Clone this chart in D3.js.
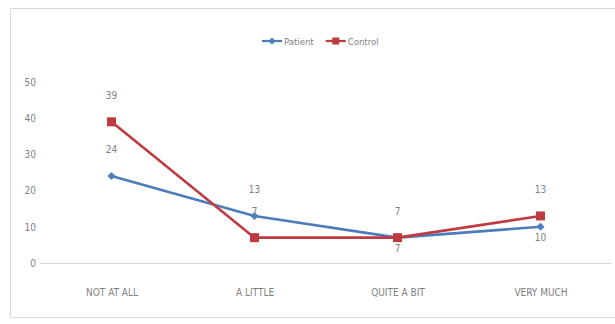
<!DOCTYPE html>
<html>
<head>
<meta charset="utf-8">
<script src="https://cdn.jsdelivr.net/npm/d3@7"></script>
<style>
  html, body { margin: 0; padding: 0; background: #fff; }
  svg { display: block; }
  text { font-family: "Liberation Sans Narrow", "DejaVu Sans Condensed", "Arial Narrow", sans-serif; fill: #7f7f7f; }
</style>
</head>
<body>
<svg id="chart" width="615" height="324"></svg>
<script>
// Response categories along the x axis
const categories = ["NOT AT ALL", "A LITTLE", "QUITE A BIT", "VERY MUCH"];
// Series values per category
const patientValues = [24, 13, 7, 10];
const controlValues = [39, 7, 7, 13];
// Y axis ticks
const yTicks = [0, 10, 20, 30, 40, 50];
// Where each value label sits relative to its point
const patientLabelPos = ["above", "above", "below", "below"];
const controlLabelPos = ["above", "above", "above", "above"];

const series = [
  { name: "Patient", values: patientValues, labelPos: patientLabelPos, color: "#4d7cba", marker: "diamond" },
  { name: "Control", values: controlValues, labelPos: controlLabelPos, color: "#bf3b42", marker: "square" }
];

const svg = d3.select("#chart");
const W = 615;
const FONT = '"Liberation Sans Narrow", "DejaVu Sans Condensed", sans-serif';

// Outer frame of the chart area
svg.append("rect")
  .attr("x", 10.5).attr("y", 8.5)
  .attr("width", W).attr("height", 309)
  .attr("fill", "#fff").attr("stroke", "#d9d9d9").attr("stroke-width", 1);

const plot = { left: 40, right: 612, top: 82, bottom: 263 };

const x = d3.scalePoint().domain(categories)
  .range([plot.left, plot.right]).padding(0.5);
const y = d3.scaleLinear().domain([0, 50]).range([plot.bottom, plot.top]);

// Y axis: labels only, no domain line
const yAxis = svg.append("g")
  .attr("transform", `translate(${plot.left},0)`)
  .call(d3.axisLeft(y).tickValues(yTicks).tickSize(0).tickPadding(4));
yAxis.select(".domain").remove();
yAxis.selectAll("text").attr("font-size", 10).attr("fill", "#7f7f7f")
  .style("font-family", FONT);

// X axis baseline and category labels
const xAxis = svg.append("g")
  .attr("transform", `translate(0,${plot.bottom})`)
  .call(d3.axisBottom(x).tickSize(0).tickPadding(26));
xAxis.select(".domain").attr("stroke", "#d9d9d9").attr("stroke-width", 1.2)
  .attr("d", `M${plot.left},0.5H${plot.right}`);
xAxis.selectAll("text").attr("font-size", 10).attr("fill", "#7f7f7f")
  .style("font-family", FONT);

const line = d3.line()
  .x((d, i) => x(categories[i]))
  .y(d => y(d));

function drawMarker(g, type, color, cx, cy, s) {
  if (type === "diamond") {
    g.append("path")
      .attr("d", `M0,${-s / 2}L${s / 2},0L0,${s / 2}L${-s / 2},0Z`)
      .attr("transform", `translate(${cx},${cy})`)
      .attr("fill", color);
  } else {
    g.append("rect")
      .attr("x", cx - s / 2).attr("y", cy - s / 2)
      .attr("width", s).attr("height", s)
      .attr("fill", color);
  }
}

// Lines and markers
series.forEach(s => {
  const g = svg.append("g");
  g.append("path")
    .datum(s.values)
    .attr("d", line)
    .attr("fill", "none")
    .attr("stroke", s.color)
    .attr("stroke-width", 2.6)
    .attr("stroke-linejoin", "round");
  s.values.forEach((v, i) => {
    drawMarker(g, s.marker, s.color, x(categories[i]), y(v), s.marker === "square" ? 9 : 8);
  });
});

// Value labels
series.forEach(s => {
  svg.append("g").selectAll("text")
    .data(s.values)
    .join("text")
    .attr("x", (d, i) => x(categories[i]))
    .attr("y", (d, i) => s.labelPos[i] === "above" ? y(d) - 23 : y(d) + 14)
    .attr("text-anchor", "middle")
    .attr("font-size", 10)
    .attr("fill", "#8c8c8c")
    .text(d => d);
});

// Legend
const legend = svg.append("g").attr("transform", "translate(262,41)");
let lx = 0;
series.forEach(s => {
  const item = legend.append("g").attr("transform", `translate(${lx},0)`);
  item.append("line").attr("x1", 0).attr("x2", 20).attr("y1", 0).attr("y2", 0)
    .attr("stroke", s.color).attr("stroke-width", 2.2);
  drawMarker(item, s.marker, s.color, 10, 0, s.marker === "square" ? 7 : 7);
  const t = item.append("text").attr("x", 22).attr("y", 3.5)
    .attr("font-size", 9.5).attr("fill", "#7f7f7f").text(s.name);
  lx += 22 + t.node().getComputedTextLength() + 12;
});
</script>
</body>
</html>
